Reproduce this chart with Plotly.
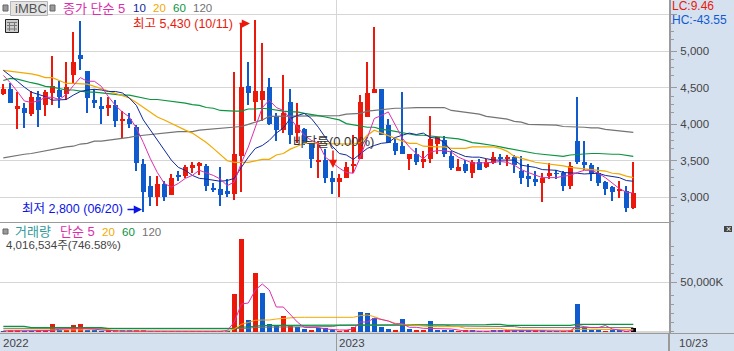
import plotly.graph_objects as go

# weekly OHLC (KRW)
opens = [4410,4480,4210,4230,4140,4370,4260,4430,4470,4410,4670,4950,4730,4340,4250,4230,4270,4040,4070,3970,
         3450,3160,3010,3180,3030,3310,3290,3400,3430,3430,3130,3110,3080,3040,3560,4520,4300,4340,4510,4110,
         3920,4300,3880,3930,3730,3480,3510,3260,3210,3260,3430,3520,4100,4430,4480,3990,3750,3700,3530,3590,
         3490,3520,3730,3780,3560,3360,3450,3330,3490,3410,3470,3550,3520,3550,3360,3290,3250,3190,3290,3330,
         3340,3160,3770,3490,3440,3330,3210,3140,3100,3080,2850]
highs = [4550,4560,4440,4290,4450,4450,4470,4930,4590,4860,5260,5410,4730,4490,4370,4370,4330,4180,4150,3990,
         3530,3290,3290,3230,3320,3360,3440,3480,3480,3450,3190,3410,3250,4710,5380,4860,5430,5110,4630,4150,
         4670,4480,4290,3950,3740,3770,3660,3360,3320,3490,3860,4400,4850,5330,4480,4070,3800,4440,3590,3670,
         3640,4110,3820,3840,3630,3520,3510,3510,3520,3520,3620,3600,3580,3580,3560,3450,3360,3340,3470,3380,
         3360,3480,4380,3770,3470,3410,3220,3150,3230,3150,3490]
lows = [4400,4290,3930,3950,4120,3970,4110,4270,4220,4340,4550,4740,4150,4230,4010,4120,3970,3810,3950,3360,
        2800,2880,2880,2950,3030,3220,3270,3340,3300,3080,3070,2880,3000,2970,3070,4260,4050,4050,3990,3770,
        3880,3730,3740,3710,3400,3260,3190,3040,3000,3260,3340,3520,4100,4430,3850,3740,3580,3590,3370,3440,
        3400,3470,3590,3550,3380,3360,3340,3260,3370,3400,3450,3440,3430,3340,3180,3140,3150,2930,3250,3250,
        3080,3120,3450,3380,3220,3150,3030,2950,2990,2800,2840]
closes = [4480,4290,4250,4150,4370,4190,4440,4530,4380,4510,4850,4900,4360,4290,4210,4270,4040,4070,4000,3470,
          3070,3010,3180,3010,3270,3290,3410,3440,3470,3160,3110,3030,3040,3590,4510,4430,4450,4450,4010,3920,
          4160,3860,3990,3730,3520,3510,3260,3210,3270,3420,3450,4300,4430,4490,3860,3750,3640,3590,3590,3490,
          3530,3800,3820,3600,3400,3410,3360,3490,3380,3480,3550,3520,3550,3440,3260,3250,3210,3260,3330,3320,
          3160,3430,3480,3440,3320,3190,3120,3070,3120,2860,3065]

ma5 = [4670,4570,4450,4320,4300,4320,4370,4370,4340,4410,4530,4640,4590,4590,4520,4380,4260,4170,4100,3950,
       3750,3530,3340,3190,3140,3190,3260,3300,3370,3340,3300,3250,3160,3210,3470,3690,3970,4230,4330,4230,
       4190,4080,3960,3850,3780,3740,3550,3470,3400,3340,3330,3550,3820,4080,4120,4170,3990,3810,3690,3600,
       3530,3620,3640,3640,3620,3550,3510,3470,3470,3470,3480,3490,3480,3440,3380,3340,3300,3270,3270,3270,
       3290,3300,3340,3370,3370,3330,3270,3190,3120,3070,3060]
ma10 = [4740,4670,4590,4510,4440,4410,4380,4330,4340,4340,4400,4450,4470,4480,4470,4450,4450,4430,4360,4260,
        4060,3920,3780,3640,3510,3410,3370,3300,3260,3250,3230,3220,3230,3260,3410,3550,3670,3710,3780,3880,
        3950,4080,4120,4150,4080,3960,3820,3700,3600,3580,3520,3600,3670,3710,3740,3750,3820,3850,3880,3860,
        3880,3820,3810,3750,3640,3600,3560,3550,3550,3530,3510,3510,3510,3510,3440,3430,3410,3380,3380,3370,
        3340,3340,3330,3320,3330,3330,3300,3290,3270,3230,3220]
ma20 = [4740,4730,4710,4700,4690,4670,4640,4640,4600,4560,4560,4560,4550,4520,4490,4450,4430,4400,4360,4300,
        4230,4170,4100,4060,4010,3960,3920,3880,3820,3750,3670,3580,3500,3480,3480,3480,3500,3520,3520,3580,
        3600,3660,3700,3740,3740,3740,3740,3730,3730,3730,3730,3750,3850,3920,3880,3850,3810,3770,3740,3740,
        3700,3690,3690,3690,3670,3670,3670,3690,3690,3690,3690,3670,3630,3560,3540,3510,3480,3470,3450,3440,
        3430,3410,3400,3400,3380,3370,3360,3330,3320,3290,3270]
ma60 = [4600,4630,4620,4590,4570,4550,4520,4510,4490,4470,4470,4450,4440,4440,4430,4410,4400,4400,4400,4380,
        4370,4340,4340,4330,4320,4300,4290,4270,4260,4230,4220,4190,4180,4180,4180,4210,4210,4220,4210,4190,
        4180,4170,4170,4150,4140,4120,4100,4080,4060,4010,3990,3970,3960,3960,3930,3920,3900,3880,3860,3850,
        3850,3840,3840,3820,3810,3800,3780,3750,3740,3730,3710,3690,3670,3660,3630,3620,3600,3590,3580,3560,
        3560,3580,3590,3600,3600,3600,3590,3590,3590,3580,3560]
ma120 = [3540,3560,3580,3590,3600,3620,3630,3660,3670,3690,3700,3730,3740,3770,3770,3780,3800,3810,3820,3840,
         3850,3860,3880,3890,3900,3900,3900,3900,3920,3930,3930,3950,3960,3960,3970,4000,4030,4060,4110,4110,
         4120,4120,4120,4120,4120,4120,4120,4120,4120,4140,4150,4150,4180,4190,4210,4220,4220,4220,4230,4230,
         4230,4230,4230,4230,4190,4180,4170,4150,4140,4110,4100,4080,4070,4040,4030,4000,4000,4000,3990,3990,
         3970,3970,3960,3960,3950,3950,3930,3920,3900,3900,3890]

# weekly volume, thousands of shares
volume = [1000,2000,2000,1000,1000,2000,2500,8000,1500,2500,7000,8000,2000,2000,1000,2500,2000,2000,1500,2000,
          2000,1000,1000,1000,1000,800,800,800,800,800,800,800,800,38200,93500,12000,59400,39200,8000,6000,
          16000,6000,5300,3000,2000,3700,3700,2000,1000,1300,5300,20000,19000,14000,5000,3000,2000,13000,3000,2000,
          2000,11000,2000,2000,2000,1000,1500,1500,700,700,2000,2000,1700,2300,1700,1700,1300,1300,1000,1000,
          1000,1300,28000,5000,2300,2300,1000,2000,1700,700,4017]
vol_side = list("BRRBBRRRBRRRBBBRRBBRRBRBRBRRRBBBBRRBRBBBRRBBRBBBRRRBBBBBRBBRRBBBBRRBBRBBRBBBRBBBRRBBBBRBBR")
vol_ma5 = [1000,1000,1000,800,800,900,1000,1500,2800,2800,3500,3800,3500,3000,2000,1500,1000,900,800,800,
           800,700,700,700,700,700,700,700,700,700,700,700,1500,10000,28000,29000,42000,48000,42000,25000,
           25000,17000,10000,4500,4400,4400,3000,2300,2000,2000,3000,10000,10000,14000,12700,11000,8000,8400,4700,4700,
           3700,3700,3700,3400,3000,2000,1000,1000,700,800,1000,1200,1500,1500,1400,1300,1100,1000,1000,900,
           900,1000,6700,5400,4400,4400,6500,3000,2000,700,1700]
vol_ma20 = [1800,1800,1800,1800,1800,2300,2300,2300,2300,2300,2300,2300,2300,2300,2300,2300,1000,1000,1000,1000,
            1000,1000,1000,1000,1000,1000,1000,1000,1000,1000,1000,1000,1000,3000,7700,9500,11700,12000,12000,13000,
            13700,14400,14700,14700,14700,14700,14700,14700,14700,14700,14700,16400,17000,15400,12700,11000,8700,7700,7000,6400,
            6000,5400,5400,5400,5400,5400,3700,3700,3700,3700,4400,3700,2300,2300,2300,2300,2300,1700,1700,1700,
            1700,1700,2700,2700,2700,2700,2700,2700,2700,2700,2300]
vol_ma60 = [5700,5700,5700,5700,4400,4400,4400,4400,4400,4400,4400,4400,4400,4400,4400,3400,3400,3400,3400,3400,
            3400,3400,3400,3400,3400,3400,3400,3400,3400,3400,3400,3400,3400,3400,5000,5000,6000,6700,6700,6700,
            6700,6700,6700,6700,6700,6700,6700,6700,6700,6700,6700,6700,6700,6700,6700,6700,6700,6700,6700,6700,
            6700,6700,6700,6700,6700,7400,7400,7400,7400,7400,7700,7700,6700,6700,6700,6700,6700,6700,6700,6700,
            6700,6700,7700,7700,7700,7700,7700,7700,7700,7700,7700]
vol_ma120 = [3700,3700,3700,3700,3300,3300,3300,3300,3300,3300,3300,3300,3300,3300,3300,3300,3300,3300,3300,3300,
             3300,3300,3300,3300,3300,3300,3300,3300,3300,3300,3300,3300,3300,3700,3700,3700,4700,5000,5000,5000,
             5000,5000,5000,5400,5400,5400,5400,5400,6700,6700,6700,6700,6700,6700,6700,6700,6700,6700,7000,7000,
             7000,7000,7000,7000,6000,6000,6000,6000,6000,6000,5400,5400,5400,5400,4400,4400,4400,4400,4400,4400,
             4000,4000,3700,3700,3700,3700,4000,4000,4000,4400,4400]

price_ticks = [3000,3500,4000,4500,5000]
price_labels = ["3,000","3,500","4,000","4,500","5,000"]
vol_ticks = [50000]
vol_labels = ["50,000K"]
year_labels = ["2022","2023","10/23"]

RED, BLUE = "#ea190c", "#0f5bce"
MAG, NAVY, ORG, GRN, GRY = "#dc2eac", "#10289c", "#f2a900", "#0a9440", "#737373"
W, H = 734, 351
AX = 669
FONT = "Liberation Sans, Noto Sans CJK KR"
NUM = 11.5

px = lambda x: x / W
py = lambda y: 1 - y / H

n = len(closes)
xs = list(range(n))
bar_col = [RED if c >= o else BLUE for o, c in zip(opens, closes)]
vol_col = [RED if s == "R" else BLUE for s in vol_side]

fig = go.Figure()
fig.add_bar(x=xs, base=lows, y=[h - l for h, l in zip(highs, lows)], width=1.1 / 7,
            marker=dict(color=bar_col, line_width=0), xaxis="x", yaxis="y")
fig.add_bar(x=xs, base=[min(o, c) for o, c in zip(opens, closes)],
            y=[abs(c - o) for o, c in zip(opens, closes)], width=5 / 7,
            marker=dict(color=bar_col, line_width=0), xaxis="x", yaxis="y")
for vals, col, lw in [(ma120, GRY, 1.2), (ma60, GRN, 1.2), (ma20, ORG, 1.2), (ma10, NAVY, 1), (ma5, MAG, 1)]:
    fig.add_scatter(x=xs, y=vals, mode="lines", line=dict(color=col, width=lw), xaxis="x", yaxis="y")

fig.add_bar(x=xs, y=volume, width=5 / 7, marker=dict(color=vol_col, line_width=0), xaxis="x2", yaxis="y2")
for vals, col, lw in [(vol_ma120, GRY, 1), (vol_ma60, GRN, 1.2), (vol_ma20, ORG, 1), (vol_ma5, MAG, 1)]:
    fig.add_scatter(x=xs, y=vals, mode="lines", line=dict(color=col, width=lw), xaxis="x2", yaxis="y2")

xrange = [-0.476, 95.1]
GRID = "#d6d6d6"
AXC = "#9a9a9a"
tickfont = dict(family=FONT, size=NUM, color="#444444")

price_minor = [t - k * 112 for t in price_ticks + [5500] for k in (1, 2, 3)]
vol_minor = [1000, 10000, 19000, 28000, 37000, 59000, 68000, 77000, 86000]

layout = dict(
    width=W, height=H, autosize=False, margin=dict(l=0, r=0, t=0, b=0),
    paper_bgcolor="#d6e1f0", plot_bgcolor="#ffffff", showlegend=False, barmode="overlay",
    bargap=0, hovermode=False,
    xaxis=dict(domain=[0, AX / W], range=xrange, anchor="y", showticklabels=False, tickvals=[47.6],
               showgrid=True, gridcolor=GRID, gridwidth=1, ticks="", zeroline=False, showline=False),
    xaxis2=dict(domain=[0, AX / W], range=xrange, anchor="y2", showticklabels=False, tickvals=[47.6],
                showgrid=True, gridcolor=GRID, gridwidth=1, ticks="outside", ticklen=18, tickcolor=AXC,
                tickwidth=1, zeroline=False, showline=False),
    yaxis=dict(domain=[py(222), 1], range=[2662, 5703], side="right", anchor="x",
               tickvals=price_ticks + [5500], ticktext=price_labels + [""], ticks="outside", ticklen=6,
               tickcolor=AXC, tickfont=tickfont, showgrid=True, gridcolor=GRID, zeroline=False,
               showline=True, linecolor=AXC, linewidth=2, ticklabelstandoff=1,
               minor=dict(tickvals=price_minor, ticks="outside", ticklen=3, tickcolor=AXC, showgrid=False)),
    yaxis2=dict(domain=[py(333), py(222)], range=[-1000, 110000], side="right", anchor="x2",
                tickvals=vol_ticks, ticktext=vol_labels, ticks="outside", ticklen=6, tickcolor=AXC,
                tickfont=tickfont, showgrid=True, gridcolor=GRID, zeroline=True, zerolinecolor=GRID,
                showline=True, linecolor=AXC, linewidth=2, ticklabelstandoff=1,
                minor=dict(tickvals=vol_minor, ticks="outside", ticklen=3, tickcolor=AXC, showgrid=False)),
)

shapes = []
def rect(x0, y0, x1, y1, fill, line=None, lw=1):
    shapes.append(dict(type="rect", xref="paper", yref="paper", x0=px(x0), x1=px(x1), y0=py(y0), y1=py(y1),
                       fillcolor=fill, line=dict(color=line or fill, width=lw if line else 0)))
def hline(x0, x1, y, col, lw=1):
    shapes.append(dict(type="line", xref="paper", yref="paper", x0=px(x0), x1=px(x1), y0=py(y), y1=py(y),
                       line=dict(color=col, width=lw)))
def vline(x, y0, y1, col, lw=1):
    shapes.append(dict(type="line", xref="paper", yref="paper", x0=px(x), x1=px(x), y0=py(y0), y1=py(y1),
                       line=dict(color=col, width=lw)))

hline(0, AX, 222.5, AXC)
hline(0, W, 333.5, AXC)
vline(AX, 333, H, AXC, 2)
# header buttons
rect(3, 5, 8, 11, "#9a9a9a", "#666666")
rect(10.5, 1.5, 47.5, 15.5, "#e4e4e4", "#b5b5b5")
rect(50, 5, 55, 11, "#9a9a9a", "#666666")
rect(3, 229, 8, 234, "#9a9a9a", "#666666")
# table icon
rect(5.5, 19.5, 18.5, 32.5, "#cccccc", "#222222")
for gx in (9.5, 14.5):
    vline(gx, 22, 31, "#777777")
for gy in (22.5, 25.5, 29):
    hline(7, 17, gy, "#777777")
# maximize button in the volume pane
rect(724, 226, 732, 232, "#444444")

def text(x, y, s, col, size=13, anchor="left"):
    return dict(xref="paper", yref="paper", x=px(x), y=py(y), text=s, showarrow=False, xanchor=anchor,
                yanchor="middle", borderpad=0, font=dict(family=FONT, size=size, color=col))

anns = [
    text(14, 8.5, "iMBC", "#555555", 13),
    text(62, 8.5, "종가 단순 5", MAG, 13),
    text(132, 8.5, "10", NAVY, NUM), text(152, 8.5, "20", ORG, NUM),
    text(172, 8.5, "60", GRN, NUM), text(192, 8.5, "120", GRY, NUM),
    text(132, 23.5, "최고 5,430 (10/11)", RED, 12.5),
    text(21, 209.5, "최저 2,800 (06/20)", "#0a14e6", 12.5),
    text(292, 141, "바닥률(0.00%)", "#333333", 13),
    text(670.5, 6.5, "LC:9.46", RED, 12),
    text(670.5, 20.5, "HC:-43.55", BLUE, 12),
    text(14, 231.5, "거래량", "#2f9a9a", 13),
    text(59, 231.5, "단순 5", MAG, 13),
    text(101, 231.5, "20", ORG, NUM), text(121, 231.5, "60", GRN, NUM), text(141, 231.5, "120", GRY, NUM),
    text(4.5, 244.5, "4,016,534주(746.58%)", "#444444", 11.5),
    text(2, 342.5, year_labels[0], "#444444", NUM),
    text(338, 342.5, year_labels[1], "#444444", NUM),
    text(678, 342.5, year_labels[2], "#444444", NUM),
    text(728, 229, "×", "#ffffff", 9, "center"),
]
def arrow(x1, y1, x0, y0, col):
    return dict(xref="paper", yref="paper", axref="pixel", ayref="pixel", x=px(x1), y=py(y1),
                ax=x0 - x1, ay=y0 - y1, text="", showarrow=True, arrowhead=2, arrowsize=1.1,
                arrowwidth=1.5, arrowcolor=col)
anns += [arrow(250, 23.5, 238, 23.5, RED), arrow(142, 209.5, 126, 209.5, "#0a14e6"), arrow(333, 168, 333, 149, RED)]

layout["shapes"] = shapes
layout["annotations"] = anns
fig.update_layout(**layout)
fig.write_html("out.html", config={"displayModeBar": False},
               post_script="document.body.style.margin='0';document.documentElement.style.overflow='hidden';")
